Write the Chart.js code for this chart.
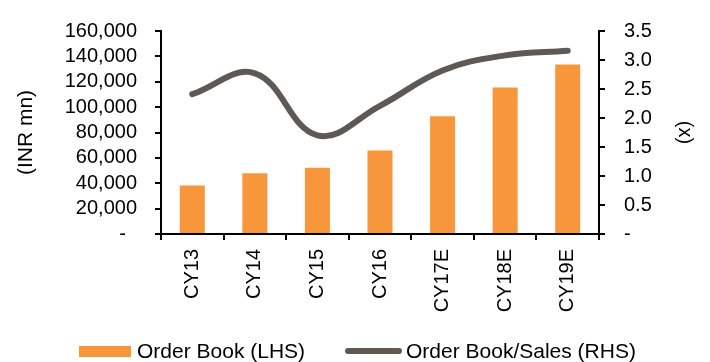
<!DOCTYPE html>
<html>
<head>
<meta charset="utf-8">
<script src="https://cdn.jsdelivr.net/npm/chart.js@4/dist/chart.umd.min.js"></script>
<style>
  html, body { margin: 0; padding: 0; background: #fff; }
  #wrap { position: relative; width: 710px; height: 362px; font-family: 'Liberation Sans', Arial, sans-serif; }
  #c { position: absolute; left: 0; top: 0; }
  .lg { position: absolute; font-size: 21px; color: #000; white-space: nowrap; line-height: 24px; }
  .sw { position: absolute; }
</style>
</head>
<body>
<div id="wrap">
  <canvas id="c" width="710" height="362"></canvas>
  <div class="sw" style="left:79px; top:346px; width:52px; height:11px; background:#f7963a;"></div>
  <div class="lg" id="lg1" style="left:137px; top:339px;">Order Book (LHS)</div>
  <div class="sw" style="left:345px; top:348px; width:57px; height:6px; border-radius:3px; background:#5f5956;"></div>
  <div class="lg" id="lg2" style="left:406px; top:339px;">Order Book/Sales (RHS)</div>
</div>
<script>
const categories = ['CY13', 'CY14', 'CY15', 'CY16', 'CY17E', 'CY18E', 'CY19E'];
const orderBook = [38300, 47800, 52300, 65900, 92800, 115500, 133600];
const orderBookToSales = [2.41, 2.77, 1.70, 2.21, 2.82, 3.08, 3.16];
const leftTicks = [0, 20000, 40000, 60000, 80000, 100000, 120000, 140000, 160000];
const rightTicks = [0, 0.5, 1.0, 1.5, 2.0, 2.5, 3.0, 3.5];
const seriesNames = ['Order Book (LHS)', 'Order Book/Sales (RHS)'];
const axisTitles = ['(INR mn)', '(x)'];

const FONT = "'Liberation Sans', Arial, sans-serif";
const W = 710, H = 362;
const AREA = { left: 161, right: 599, top: 22, bottom: 234 };

new Chart(document.getElementById('c'), {
  data: {
    labels: categories,
    datasets: [
      {
        type: 'line',
        label: seriesNames[1],
        data: orderBookToSales,
        yAxisID: 'y1',
        borderColor: '#5f5956',
        backgroundColor: '#5f5956',
        borderWidth: 6,
        borderCapStyle: 'round',
        borderJoinStyle: 'round',
        tension: 0.4,
        pointRadius: 0,
        fill: false,
        order: 0
      },
      {
        type: 'bar',
        label: seriesNames[0],
        data: orderBook,
        yAxisID: 'y',
        backgroundColor: '#f7963a',
        borderWidth: 0,
        barPercentage: 0.4,
        categoryPercentage: 1.0,
        order: 1
      }
    ]
  },
  options: {
    responsive: false,
    animation: false,
    devicePixelRatio: 1,
    layout: { padding: { top: AREA.top, bottom: 0, left: 0, right: 0 } },
    plugins: {
      legend: { display: false },
      tooltip: { enabled: false }
    },
    scales: {
      x: {
        type: 'category',
        offset: true,
        grid: { display: true, drawOnChartArea: false, offset: true, tickLength: 6, color: '#000', lineWidth: 2 },
        border: { display: true, color: '#000', width: 2 },
        ticks: {
          autoSkip: false,
          minRotation: 90, maxRotation: 90, padding: 9, color: '#000',
          font: { family: FONT, size: 20 }
        },
        afterFit: (s) => { s.height = H - AREA.bottom; }
      },
      y: {
        position: 'left',
        min: 0, max: 160000,
        afterBuildTicks: (s) => { s.ticks = leftTicks.map(v => ({ value: v })); },
        grid: { display: true, drawOnChartArea: false, tickLength: 6, color: '#000', lineWidth: 2 },
        border: { display: true, color: '#000', width: 2 },
        ticks: {
          autoSkip: false,
          padding: 18, color: '#000',
          font: { family: FONT, size: 20 },
          callback: (v) => v === 0 ? '-  ' : v.toLocaleString('en-US')
        },
        title: {
          display: true, text: axisTitles[0], color: '#000',
          font: { family: FONT, size: 21 }, padding: { top: 14, bottom: 0 }
        },
        afterFit: (s) => { s.width = AREA.left; }
      },
      y1: {
        position: 'right',
        min: 0, max: 3.5,
        afterBuildTicks: (s) => { s.ticks = rightTicks.map(v => ({ value: v })); },
        grid: { display: true, drawOnChartArea: false, tickLength: 6, color: '#000', lineWidth: 2 },
        border: { display: true, color: '#000', width: 2 },
        ticks: {
          autoSkip: false,
          padding: 19, color: '#000',
          font: { family: FONT, size: 20 },
          callback: (v) => v === 0 ? '-' : Number(v).toFixed(1)
        },
        title: {
          display: true, text: axisTitles[1], color: '#000',
          font: { family: FONT, size: 20 }, padding: { top: 13, bottom: 0 }
        },
        afterFit: (s) => { s.width = W - AREA.right; }
      }
    }
  }
});
</script>
</body>
</html>
